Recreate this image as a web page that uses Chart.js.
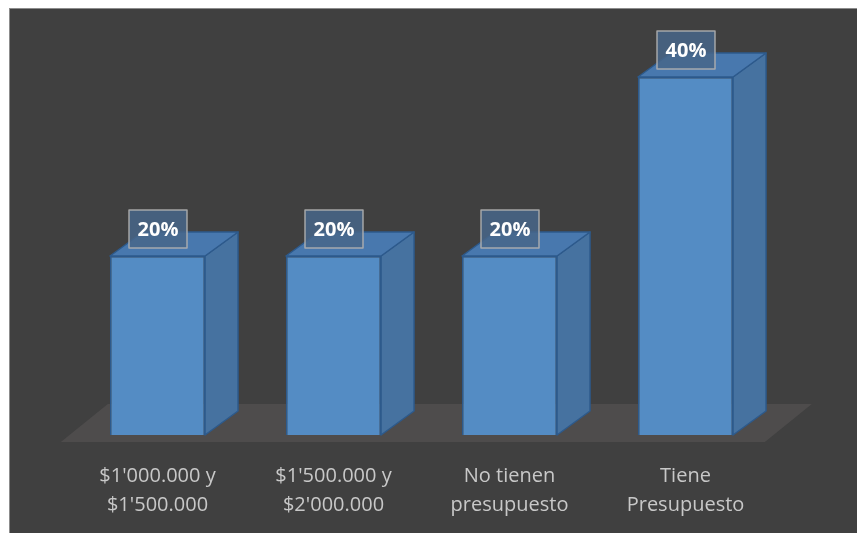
<!DOCTYPE html>
<html>
<head>
<meta charset="utf-8">
<script src="https://cdn.jsdelivr.net/npm/chart.js@4"></script>
<style>
  body { margin: 0; background: #ffffff; }
  #frame {
    position: absolute; left: 9px; top: 8px;
    width: 847px; height: 524px;
    border-left: 1px solid #8c8c8c; border-top: 1px solid #8c8c8c;
    background: #404040;
  }
  #chart { display: block; }
</style>
</head>
<body>
<div id="frame"><canvas id="chart" width="847" height="524"></canvas></div>
<script>
// categories and shares (percent)
const categories = [
    ["$1'000.000 y", "$1'500.000"],
    ["$1'500.000 y", "$2'000.000"],
    ["No tienen", "presupuesto"],
    ["Tiene", "Presupuesto"]
];
const shares = [20, 20, 20, 40];
const shareLabels = ['20%', '20%', '20%', '40%'];

// depth of the fake 3D extrusion
const DX = 33, DY = -24;

// floor under the bars + side/top faces of each bar
const box3d = {
    id: 'box3d',
    beforeDatasetsDraw(chart) {
        const ctx = chart.ctx;
        const area = chart.chartArea;
        const y0 = chart.scales.y.getPixelForValue(0);
        const fdx = 47, fdy = -38;
        const front = y0 + 7, back = front + fdy;
        const k = 7 / -fdy * fdx;
        ctx.save();
        ctx.fillStyle = 'rgb(78,76,76)';
        ctx.beginPath();
        ctx.moveTo(area.left - k, front);
        ctx.lineTo(area.right - k, front);
        ctx.lineTo(area.right - k + fdx, back);
        ctx.lineTo(area.left - k + fdx, back);
        ctx.closePath();
        ctx.fill();
        ctx.restore();
    },
    afterDatasetsDraw(chart) {
        const ctx = chart.ctx;
        const meta = chart.getDatasetMeta(0);
        ctx.save();
        ctx.lineWidth = 1.5;
        ctx.strokeStyle = 'rgb(45,90,140)';
        ctx.lineJoin = 'round';
        meta.data.forEach((bar) => {
            const p = bar.getProps(['x', 'y', 'base', 'width'], true);
            const l = p.x - p.width / 2, r = p.x + p.width / 2;
            // right side
            ctx.fillStyle = 'rgb(70,114,160)';
            ctx.beginPath();
            ctx.moveTo(r, p.y);
            ctx.lineTo(r + DX, p.y + DY);
            ctx.lineTo(r + DX, p.base + DY);
            ctx.lineTo(r, p.base);
            ctx.closePath();
            ctx.fill();
            ctx.stroke();
            // top
            ctx.fillStyle = 'rgb(72,120,174)';
            ctx.beginPath();
            ctx.moveTo(l, p.y);
            ctx.lineTo(l + DX, p.y + DY);
            ctx.lineTo(r + DX, p.y + DY);
            ctx.lineTo(r, p.y);
            ctx.closePath();
            ctx.fill();
            ctx.stroke();
        });
        // value boxes
        ctx.font = 'bold 20px "Open Sans"';
        ctx.textAlign = 'center';
        ctx.textBaseline = 'middle';
        meta.data.forEach((bar, i) => {
            const p = bar.getProps(['x', 'y'], true);
            const cx = p.x + 0.5, cy = p.y - 27;
            ctx.fillStyle = 'rgba(72,102,138,0.85)';
            ctx.fillRect(cx - 29, cy - 19, 58, 38);
            ctx.strokeStyle = 'rgba(175,175,175,0.9)';
            ctx.lineWidth = 1.5;
            ctx.strokeRect(cx - 29, cy - 19, 58, 38);
            ctx.fillStyle = '#ffffff';
            ctx.fillText(shareLabels[i], cx, cy + 1);
        });
        ctx.restore();
    }
};

const ctx = document.getElementById('chart').getContext('2d');
new Chart(ctx, {
    type: 'bar',
    data: {
        labels: categories,
        datasets: [{
            data: shares,
            backgroundColor: 'rgb(84,140,196)',
            borderColor: 'rgb(45,90,140)',
            borderWidth: 1.5,
            barPercentage: 0.54,
            categoryPercentage: 1
        }]
    },
    options: {
        responsive: false,
        animation: false,
        layout: { padding: { left: 59.5, right: 83.5, top: 68, bottom: 0 } },
        scales: {
            x: {
                grid: { display: false, drawTicks: false },
                border: { display: false },
                ticks: {
                    color: 'rgb(200,200,200)',
                    padding: 27,
                    maxRotation: 0,
                    font: { family: '"Open Sans"', size: 20, lineHeight: 1.45 }
                },
                afterFit(scale) { scale.height = 98; }
            },
            y: { display: false, min: 0, max: 40 }
        },
        plugins: {
            legend: { display: false },
            tooltip: { enabled: false }
        }
    },
    plugins: [box3d]
});
</script>
</body>
</html>
